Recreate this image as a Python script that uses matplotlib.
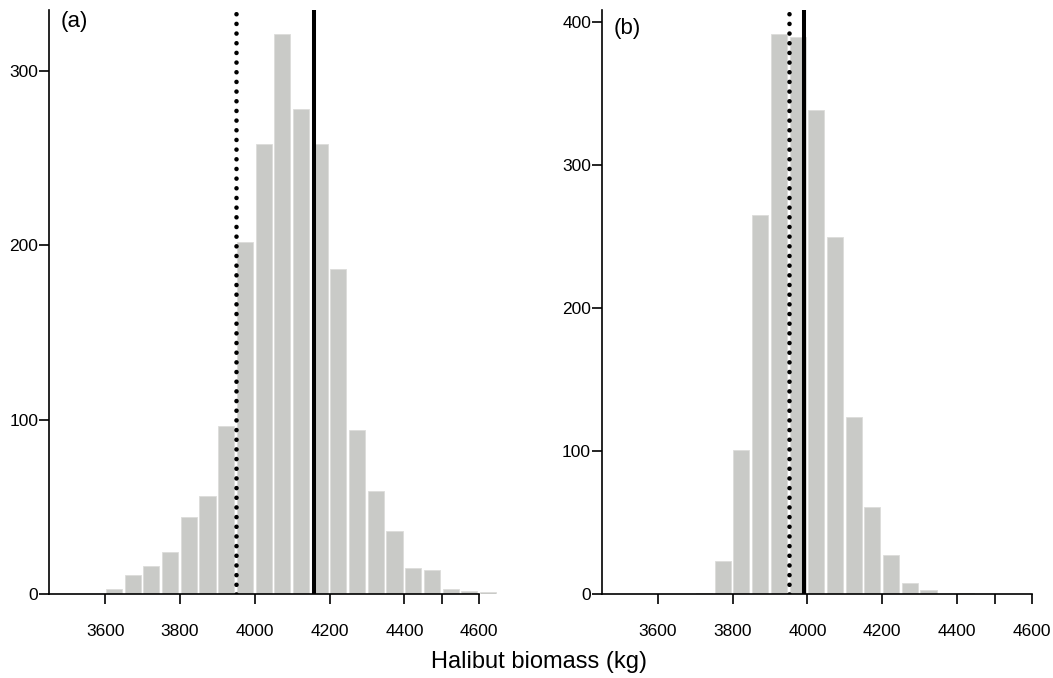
import numpy as np
import matplotlib
matplotlib.use("Agg")
import matplotlib.pyplot as plt

####### DATA #######
BIN_WIDTH = 50

# panel (a): counts per 50 kg bin, first bin starts at 3600
start_a = 3600
counts_a = [3, 11, 16, 24, 44, 56, 96, 202, 258, 321, 278, 258, 186, 94,
            59, 36, 15, 14, 3, 2, 1, 0.5]
dotted_a = 3950
solid_a = 4158

# panel (b): first bin starts at 3700
start_b = 3700
counts_b = [0.5, 23, 101, 265, 392, 390, 339, 250, 124, 61, 27, 8, 3, 0, 0.5]
dotted_b = 3950
solid_b = 3991

xticks = [3600, 3800, 4000, 4200, 4400, 4500, 4600]
xtick_labels = ["3600", "3800", "4000", "4200", "4400", "", "4600"]
yticks_a = [0, 100, 200, 300]
yticks_b = [0, 100, 200, 300, 400]

####### STYLE #######
plt.rcParams["font.family"] = ["Liberation Sans", "DejaVu Sans"]
BAR_COLOR = "#c9cac7"
EDGE_COLOR = "#dcdcda"

W, H = 1053, 678


def draw_panel(ax, start, counts, dotted, solid, yticks, ytop, label, label_y):
    lefts = start + BIN_WIDTH * np.arange(len(counts))
    ax.bar(lefts + 2, counts, width=43, align="edge", color=BAR_COLOR,
           edgecolor=EDGE_COLOR, linewidth=0.6, zorder=1)
    # dotted line: round dots
    ax.axvline(dotted, color="black", lw=3.3, linestyle=(0, (0.01, 2.1)),
               dash_capstyle="round", zorder=3)
    ax.axvline(solid, color="black", lw=2.9, zorder=3)

    ax.set_xlim(3450, 4650)
    ax.set_ylim(0, ytop)
    for s in ["top", "right"]:
        ax.spines[s].set_visible(False)
    ax.spines["left"].set_bounds(0, ytop)
    ax.spines["bottom"].set_bounds(3450, 4600)
    for s in ["left", "bottom"]:
        ax.spines[s].set_linewidth(1.2)
        ax.spines[s].set_zorder(4)

    ax.set_xticks(xticks)
    ax.set_xticklabels(xtick_labels)
    ax.set_yticks(yticks)
    ax.tick_params(axis="x", direction="out", length=7.5, width=1.2,
                   pad=14, labelsize=12.5)
    ax.tick_params(axis="y", direction="out", length=7.2, width=1.2,
                   pad=0.5, labelsize=12.5)
    ax.text(3482, label_y, label, fontsize=16, ha="left", va="center")


fig = plt.figure(figsize=(W / 100, H / 100), dpi=100)
ax_a = fig.add_axes([49 / W, 84 / H, 449 / W, 584 / H])
ax_b = fig.add_axes([601.7 / W, 84 / H, 449 / W, 584 / H])

draw_panel(ax_a, start_a, counts_a, dotted_a, solid_a, yticks_a, 334.7, "(a)", 328)
draw_panel(ax_b, start_b, counts_b, dotted_b, solid_b, yticks_b, 408.7, "(b)", 396)

fig.text(539 / W, 1 - 662 / H, "Halibut biomass (kg)", fontsize=17,
         ha="center", va="center")

fig.savefig("out.png", dpi=100)
